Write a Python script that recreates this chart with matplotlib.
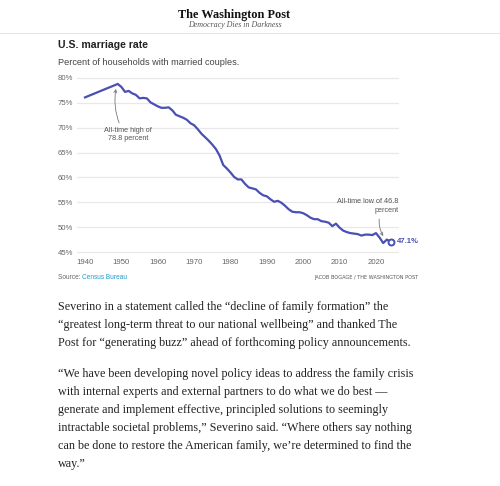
import matplotlib
matplotlib.use("Agg")
import matplotlib.pyplot as plt
from matplotlib.lines import Line2D

# ---- data ----
years = [1940, 1947, 1948, 1949, 1950, 1951, 1952, 1953, 1954, 1955, 1956, 1957, 1958, 1959,
         1960, 1961, 1962, 1963, 1964, 1965, 1966, 1967, 1968, 1969,
         1970, 1971, 1972, 1973, 1974, 1975, 1976, 1977, 1978, 1979,
         1980, 1981, 1982, 1983, 1984, 1985, 1986, 1987, 1988, 1989,
         1990, 1991, 1992, 1993, 1994, 1995, 1996, 1997, 1998, 1999,
         2000, 2001, 2002, 2003, 2004, 2005, 2006, 2007, 2008, 2009,
         2010, 2011, 2012, 2013, 2014, 2015, 2016, 2017, 2018, 2019,
         2020, 2021, 2022, 2023, 2024]
married_pct = [76.1, 78.2, 78.5, 78.8, 78.2, 77.2, 77.4, 76.9, 76.6, 75.9, 76.0, 75.9, 75.1, 74.7,
               74.3, 74.0, 74.0, 74.1, 73.5, 72.6, 72.3, 72.0, 71.6, 70.9,
               70.5, 69.7, 68.8, 68.1, 67.4, 66.6, 65.7, 64.4, 62.5, 61.8,
               61.0, 60.1, 59.6, 59.6, 58.7, 58.0, 57.8, 57.6, 56.9, 56.4,
               56.2, 55.6, 55.1, 55.3, 54.9, 54.3, 53.6, 53.1, 53.0, 53.0,
               52.8, 52.4, 51.9, 51.6, 51.6, 51.2, 51.1, 50.9, 50.2, 50.7,
               49.9, 49.3, 49.0, 48.8, 48.7, 48.6, 48.3, 48.5, 48.5, 48.4,
               48.8, 47.9, 46.8, 47.5, 47.1]
y_ticks = [45, 50, 55, 60, 65, 70, 75, 80]
y_tick_labels = ["45%", "50%", "55%", "60%", "65%", "70%", "75%", "80%"]
x_ticks = [1940, 1950, 1960, 1970, 1980, 1990, 2000, 2010, 2020]
x_tick_labels = ["1940", "1950", "1960", "1970", "1980", "1990", "2000", "2010", "2020"]
high_year, high_val = 1949, 78.8
low_year, low_val = 2022, 46.8
last_year, last_val = 2024, 47.1

LINE = "#4a4fb3"
W, H = 500, 486

def fx(px):
    return px / W

def fy(px):
    return 1 - px / H

fig = plt.figure(figsize=(W / 100, H / 100), dpi=100)
fig.patch.set_facecolor("white")

# ---- page header ----
fig.text(fx(234.5), fy(18), "The Washington Post", ha="center", va="baseline",
         family="Liberation Serif", fontweight="bold", fontsize=8.8, color="#111111")
fig.text(fx(234.5), fy(27), "Democracy Dies in Darkness", ha="center", va="baseline",
         family="Liberation Serif", style="italic", fontsize=5.8, color="#555555")
fig.add_artist(Line2D([0, 1], [fy(33.5), fy(33.5)], transform=fig.transFigure,
                      color="#e6e6e6", lw=0.8))

# ---- chart titles ----
fig.text(fx(58), fy(47.7), "U.S. marriage rate", ha="left", va="baseline",
         family="Liberation Sans", fontweight="bold", fontsize=7.6, color="#222222")
fig.text(fx(58), fy(65), "Percent of households with married couples.", ha="left", va="baseline",
         family="Liberation Sans", fontsize=6.6, color="#444444")

# ---- axes ----
ax_left, ax_right = 77, 399
y_top_px, y_bot_px = 75.5, 254.5
ax = fig.add_axes([fx(ax_left), fy(y_bot_px), (ax_right - ax_left) / W, (y_bot_px - y_top_px) / H])
ax.set_xlim(1940 - 8 / 3.63, 2020 + 23 / 3.63)
ax.set_ylim(44.5, 80.5)
for s in ax.spines.values():
    s.set_visible(False)
ax.set_facecolor("none")
ax.set_yticks(y_ticks)
ax.set_yticklabels(y_tick_labels)
ax.set_xticks(x_ticks)
ax.set_xticklabels(x_tick_labels)
ax.tick_params(axis="both", length=0, labelsize=5.6, labelcolor="#666666")
ax.tick_params(axis="y", pad=3)
ax.tick_params(axis="x", pad=3.5)
for lab in ax.get_xticklabels() + ax.get_yticklabels():
    lab.set_family("Liberation Sans")
ax.grid(axis="y", color="#e8e8e8", lw=0.9)
ax.set_axisbelow(True)

ax.plot(years, married_pct, color=LINE, lw=1.6, solid_joinstyle="round", zorder=3)
ax.plot([last_year], [last_val], marker="o", ms=4.3, mfc="white", mec=LINE, mew=1.4,
        zorder=4, clip_on=False)
ax.annotate(f"{last_val}%", xy=(last_year, last_val), xytext=(4.5, 0), textcoords="offset points",
            ha="left", va="center", fontsize=5.6, fontweight="bold", color=LINE,
            family="Liberation Sans", annotation_clip=False)

# annotations
ax.annotate("All-time high of\n78.8 percent", xy=(high_year - 0.5, high_val - 1.0),
            xytext=(1951.8, 68.6), ha="center", va="center", fontsize=5.2, color="#555555",
            family="Liberation Sans", linespacing=1.3,
            arrowprops=dict(arrowstyle="->", color="#777777", lw=0.6, shrinkA=1, shrinkB=0,
                            connectionstyle="arc3,rad=-0.15",
                            relpos=(0.35, 1.0)))
ax.annotate("All-time low of 46.8\npercent", xy=(low_year, low_val + 1.4),
            xytext=(2026.2, 54.3), ha="right", va="center", fontsize=5.2, color="#555555",
            family="Liberation Sans", linespacing=1.3, annotation_clip=False,
            arrowprops=dict(arrowstyle="->", color="#777777", lw=0.6, shrinkA=2, shrinkB=0,
                            connectionstyle="arc3,rad=0.2",
                            relpos=(0.7, 0.0)))

# ---- footer ----
t1 = fig.text(fx(58), fy(279), "Source: ", ha="left", va="baseline",
              family="Liberation Sans", fontsize=4.7, color="#666666")
fig.canvas.draw()
bb = t1.get_window_extent()
fig.text(bb.x1 / W, fy(279), "Census Bureau", ha="left", va="baseline",
         family="Liberation Sans", fontsize=4.7, color="#1f9bd1")
fig.text(fx(418), fy(279), "JACOB BOGAGE / THE WASHINGTON POST", ha="right", va="baseline",
         family="Liberation Sans Narrow", fontsize=3.6, color="#555555")

# ---- body text ----
para = [
    (310, "Severino in a statement called the \u201cdecline of family formation\u201d the"),
    (328, "\u201cgreatest long-term threat to our national wellbeing\u201d and thanked The"),
    (346, "Post for \u201cgenerating buzz\u201d ahead of forthcoming policy announcements."),
    (377, "\u201cWe have been developing novel policy ideas to address the family crisis"),
    (395, "with internal experts and external partners to do what we do best \u2014"),
    (413, "generate and implement effective, principled solutions to seemingly"),
    (431, "intractable societal problems,\u201d Severino said. \u201cWhere others say nothing"),
    (449, "can be done to restore the American family, we\u2019re determined to find the"),
    (467, "way.\u201d"),
]
for ypx, line in para:
    fig.text(fx(58), fy(ypx), line, ha="left", va="baseline",
             family="Liberation Serif", fontsize=8.75, color="#222222")

fig.savefig("out.png", dpi=100, facecolor="white")
